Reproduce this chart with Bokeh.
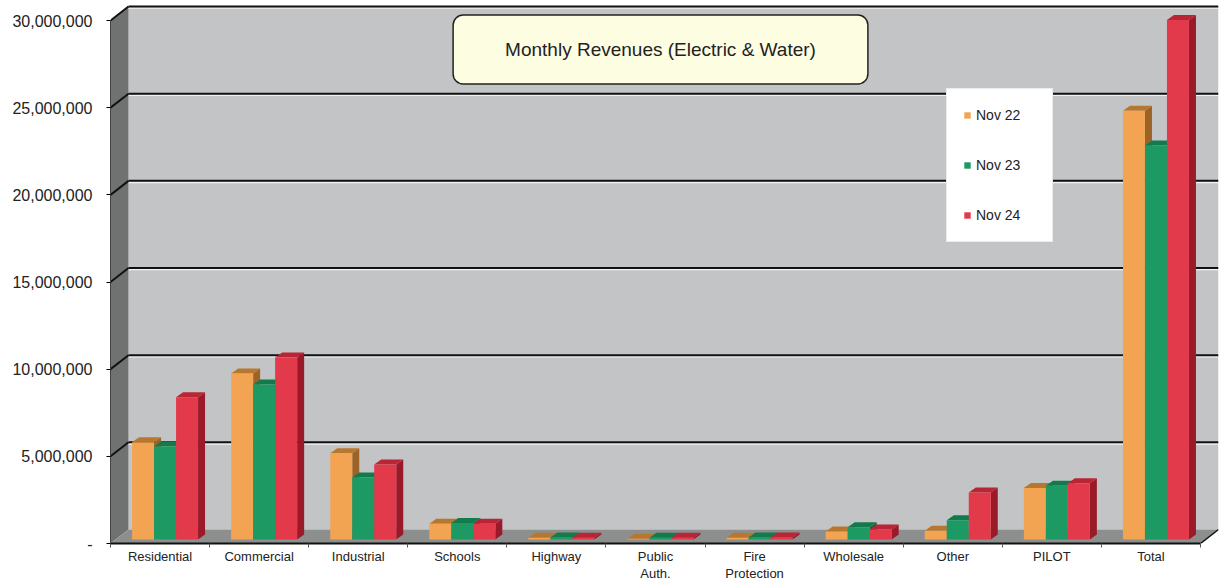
from bokeh.plotting import figure
from bokeh.models import (Range1d, FixedTicker, NumeralTickFormatter, Legend, LegendItem,
                          Label, ColumnDataSource)
from bokeh.embed import file_html
from bokeh.resources import INLINE

# ---------------- data ----------------
categories = ["Residential", "Commercial", "Industrial", "Schools", "Highway",
              "Public\nAuth.", "Fire\nProtection", "Wholesale", "Other", "PILOT", "Total"]
series = ["Nov 22", "Nov 23", "Nov 24"]
nov22 = [5.58e6, 9.52e6, 4.95e6, 0.90e6, 0.10e6, 0.05e6, 0.10e6, 0.46e6, 0.50e6, 2.95e6, 24.6e6]
nov23 = [5.34e6, 8.89e6, 3.56e6, 0.95e6, 0.12e6, 0.10e6, 0.12e6, 0.70e6, 1.10e6, 3.08e6, 22.6e6]
nov24 = [8.16e6, 10.44e6, 4.30e6, 0.90e6, 0.10e6, 0.10e6, 0.12e6, 0.58e6, 2.70e6, 3.22e6, 29.8e6]
y_ticks = [0, 5e6, 10e6, 15e6, 20e6, 25e6, 30e6]
title_text = "Monthly Revenues (Electric & Water)"

values = [nov22, nov23, nov24]
front_colors = ["#f2a452", "#1d9a63", "#e23a4b"]
cap_colors = ["#b8772f", "#137a4c", "#b82534"]
side_colors = ["#9c6326", "#0e6540", "#9a1a29"]

FONT = "Liberation Sans"
n = len(categories)

# 3D geometry (depth offsets in data units)
PX_X = 99.09            # px per category unit
PX_Y = 17.433 / 1e6     # px per value unit
dx = 18 / PX_X
dy = 14 / PX_Y
bx = 5 / PX_X           # bars plane offset
by = 4 / PX_Y
dbx = 7 / PX_X          # bar depth
dby = 5 / PX_Y
bw = 22 / PX_X          # bar width

x_end = n + dx
y_end = 539 / PX_Y

p = figure(width=1220, height=584, output_backend="svg", toolbar_location=None,
           x_range=Range1d(0, x_end), y_range=Range1d(0, y_end),
           min_border_left=110, min_border_right=2, min_border_top=4, min_border_bottom=41)
p.outline_line_color = None
p.background_fill_color = "white"
p.border_fill_color = "white"
p.xgrid.visible = False
p.ygrid.visible = False

top_v = y_ticks[-1]
# back wall
p.quad(left=[dx], right=[n + dx], bottom=[dy], top=[top_v + dy],
       fill_color="#c3c4c6", line_color=None)
# left wall
p.patch([0, dx, dx, 0], [0, dy, top_v + dy, top_v], fill_color="#6f7271", line_color=None)
# floor
p.patch([0, n, n + dx, dx], [0, 0, dy, dy], fill_color="#8d8f8f", line_color=None)
p.segment(x0=[n], y0=[0], x1=[n + dx], y1=[dy], line_color="#111111", line_width=1.5)

# gridlines on walls
gv = [v for v in y_ticks if v > 0]
hl = 1.6 / PX_Y
p.segment(x0=[dx] * len(gv), y0=[v + dy - hl for v in gv], x1=[n + dx] * len(gv),
          y1=[v + dy - hl for v in gv], line_color="#f2f2f2", line_width=1.5)
p.segment(x0=[dx] * len(gv), y0=[v + dy for v in gv], x1=[n + dx] * len(gv),
          y1=[v + dy for v in gv], line_color="#111111", line_width=2)
p.segment(x0=[0] * len(gv), y0=gv, x1=[dx] * len(gv), y1=[v + dy for v in gv],
          line_color="#111111", line_width=2)

# bars: sides, caps, then fronts
side_xs, side_ys, side_c = [], [], []
cap_xs, cap_ys, cap_c = [], [], []
fronts = []
for s in range(3):
    lefts, rights, tops = [], [], []
    for i in range(n):
        xl = i + 0.5 + bx - 1.5 * bw + s * bw
        xr = xl + bw
        t = values[s][i] + by
        b = by
        side_xs.append([xr, xr + dbx, xr + dbx, xr])
        side_ys.append([b, b + dby, t + dby, t])
        side_c.append(side_colors[s])
        cap_xs.append([xl, xr, xr + dbx, xl + dbx])
        cap_ys.append([t, t, t + dby, t + dby])
        cap_c.append(cap_colors[s])
        lefts.append(xl); rights.append(xr); tops.append(t)
    fronts.append((lefts, rights, tops))

p.patches(xs="xs", ys="ys", fill_color="c", line_color=None,
          source=ColumnDataSource(dict(xs=side_xs, ys=side_ys, c=side_c)))
p.patches(xs="xs", ys="ys", fill_color="c", line_color=None,
          source=ColumnDataSource(dict(xs=cap_xs, ys=cap_ys, c=cap_c)))
renderers = []
for s in range(3):
    lefts, rights, tops = fronts[s]
    r = p.quad(left=lefts, right=rights, bottom=[by] * n, top=tops,
               fill_color=front_colors[s], line_color=None)
    renderers.append(r)

# axes
yax = p.yaxis[0]
yax.ticker = FixedTicker(ticks=y_ticks)
yax.formatter = NumeralTickFormatter(format="0,0")
yax.major_label_overrides = {0: "-"}
yax.major_label_text_font = FONT
yax.major_label_text_font_size = "16px"
yax.major_label_text_color = "#222222"
yax.major_tick_out = 4
yax.major_tick_in = 0
yax.minor_tick_line_color = None
yax.major_label_standoff = 14
yax.axis_line_color = "#444444"
yax.bounds = (0, top_v)

xax = p.xaxis[0]
centers = [i + 0.5 for i in range(n)]
xax.ticker = FixedTicker(ticks=centers, minor_ticks=list(range(n + 1)))
xax.major_label_overrides = {c: lab for c, lab in zip(centers, categories)}
xax.major_label_text_font = FONT
xax.major_label_text_font_size = "13px"
xax.major_label_text_color = "#222222"
xax.major_label_text_line_height = 1.15
xax.major_tick_line_color = None
xax.major_tick_out = 0
xax.major_tick_in = 0
xax.minor_tick_out = 4
xax.minor_tick_in = 0
xax.minor_tick_line_color = "#555555"
xax.major_label_standoff = 1
xax.axis_line_color = "#111111"
xax.axis_line_width = 2
xax.bounds = (0, n)

# title box
title = Label(x=(660 - 110) / PX_X, y=(543 - 49) / PX_Y, text=title_text,
              text_align="center", text_baseline="middle",
              text_font=FONT, text_font_size="19px", text_color="#222222",
              background_fill_color="#fdfde2", border_line_color="#222222",
              border_line_width=1.5, padding=(52, 24), border_radius=10)
p.add_layout(title)

# legend
legend = Legend(items=[LegendItem(label=s, renderers=[r]) for s, r in zip(series, renderers)],
                location=(836, 301), orientation="vertical",
                glyph_width=8, glyph_height=8, label_standoff=5, spacing=30,
                padding=16, margin=0, label_width=60, label_height=20,
                label_text_font=FONT, label_text_font_size="14px", label_text_color="#222222",
                background_fill_color="white", background_fill_alpha=1.0,
                border_line_color="#d8d8d8", border_line_width=1)
p.add_layout(legend)

open("out.html", "w").write(file_html(p, INLINE))
